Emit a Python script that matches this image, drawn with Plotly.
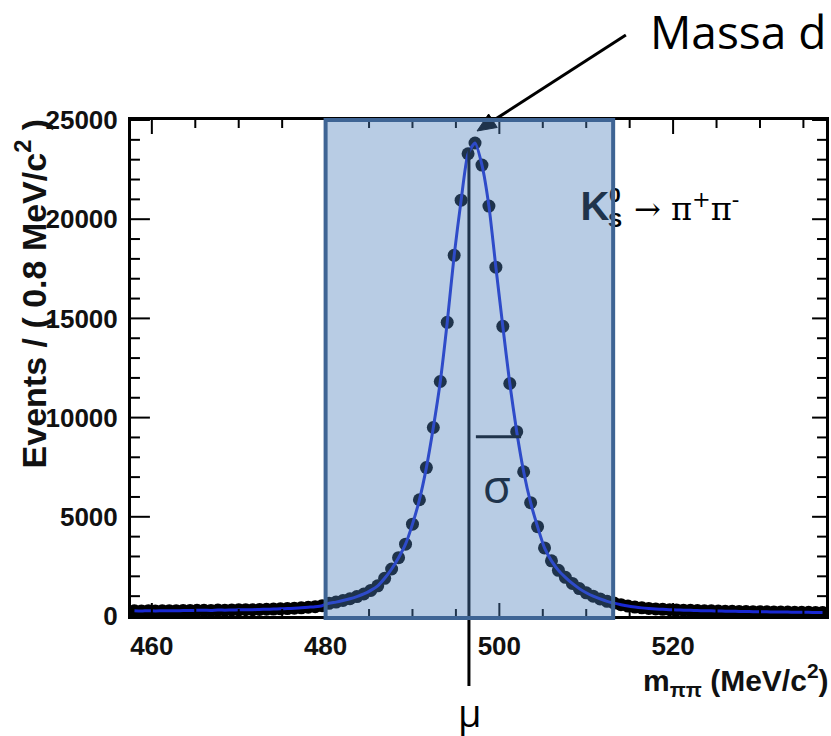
import numpy as np
import plotly.graph_objects as go

# ---- data: K0s -> pi+ pi- invariant mass, 0.8 MeV/c^2 bins ----
x_lo, x_hi, bin_w = 457.6, 537.6, 0.8
bin_centers = np.round(np.arange(x_lo + bin_w / 2, x_hi, bin_w), 2)

events_left_bg = [260, 250, 270, 255, 265, 270, 260, 280, 275, 285, 290, 280, 300, 295,
                  305, 310, 320, 315, 330, 340, 350, 360, 375, 390, 410, 440, 470, 520]
events_peak = [640, 700, 780, 870, 980, 1110, 1290, 1520, 1900, 2370, 2940, 3620, 4630,
               5860, 7480, 9500, 11820, 14800, 18180, 20960, 23300, 23840, 22730, 20660,
               17580, 14600, 11720, 9290, 7270, 5710, 4500, 3430, 2780, 2300, 1950, 1640,
               1380, 1170, 1000, 860, 740, 650]
events_right_bg = [570, 500, 450, 410, 380, 355, 335, 320, 305, 295, 285, 275, 265, 260,
                   250, 245, 240, 232, 226, 220, 215, 210, 205, 200, 196, 192, 188, 184,
                   180, 176]
events = np.array(events_left_bg + events_peak + events_right_bg, dtype=float)

mu = 496.5            # fitted mean
sigma_mark = (497.3, 502.5, 9040)   # x0, x1, y of the width marker

y_lo, y_hi = 0, 25000
x_major, x_minor = 20, 5
y_major, y_minor = 5000, 1000
window = (480.0, 513.1)   # selection window

# ---- page geometry ----
W, H = 831, 736
ML, MR, MT, MB = 131, 2, 120, 120
PW, PH = W - ML - MR, H - MT - MB


def px(xp, yp):
    """pixel -> paper coordinates"""
    return (xp - ML) / PW, (H - MB - yp) / PH


def data_to_px(xd, yd):
    return (ML + (xd - x_lo) / (x_hi - x_lo) * PW,
            H - MB - (yd - y_lo) / (y_hi - y_lo) * PH)


fig = go.Figure()

# data points and fitted curve
fig.add_trace(go.Scatter(
    x=bin_centers, y=events, mode="markers",
    marker=dict(color="black", size=13, line=dict(width=0)),
    hoverinfo="skip", showlegend=False))
fig.add_trace(go.Scatter(
    x=bin_centers, y=events, mode="lines",
    line=dict(color="rgb(25,40,210)", width=3, shape="spline", smoothing=0.6),
    hoverinfo="skip", showlegend=False))

# decay label
serif = "DejaVu Serif, Liberation Serif, serif"
sans = "Liberation Sans, Arial, sans-serif"
fig.add_trace(go.Scatter(x=[511.0], y=[20450], mode="text", text=["<b>K</b>"],
                         textfont=dict(family=sans, size=40, color="black"),
                         showlegend=False, hoverinfo="skip"))
fig.add_trace(go.Scatter(x=[513.3], y=[21150], mode="text", text=["<b>0</b>"],
                         textfont=dict(family=sans, size=21, color="black"),
                         showlegend=False, hoverinfo="skip"))
fig.add_trace(go.Scatter(x=[513.3], y=[19850], mode="text", text=["<b>S</b>"],
                         textfont=dict(family=sans, size=21, color="black"),
                         showlegend=False, hoverinfo="skip"))
fig.add_trace(go.Scatter(x=[515.5], y=[20350], mode="text",
                         text=["\u2192 \u03c0<sup>+</sup>\u03c0<sup>-</sup>"],
                         textposition="middle right",
                         textfont=dict(family=serif, size=32, color="black"),
                         showlegend=False, hoverinfo="skip"))
# width label
hand = "Open Sans, sans-serif"
fig.add_trace(go.Scatter(x=[499.7], y=[6300], mode="text", text=["\u03c3"],
                         textfont=dict(family=hand, size=46, color="black"),
                         showlegend=False, hoverinfo="skip"))

# ---- shapes (drawn in order; the window overlay goes last) ----
shapes = []

# inward tick marks on all four sides (ROOT style)
tick_line = dict(color="black", width=2)
for v in np.arange(y_lo, y_hi + 1, y_minor):
    major = v % y_major == 0
    left_len = (19 if major else 9) / PW
    right_len = (14 if major else 9) / PW
    shapes.append(dict(type="line", xref="paper", yref="y", x0=0, x1=left_len,
                       y0=v, y1=v, line=tick_line, layer="above"))
    shapes.append(dict(type="line", xref="paper", yref="y", x0=1 - right_len, x1=1,
                       y0=v, y1=v, line=tick_line, layer="above"))
for v in np.arange(np.ceil(x_lo / x_minor) * x_minor, x_hi, x_minor):
    major = v % x_major == 0
    bot_len = (13 if major else 7) / PH
    top_len = (14 if major else 8) / PH
    shapes.append(dict(type="line", xref="x", yref="paper", x0=v, x1=v,
                       y0=0, y1=bot_len, line=tick_line, layer="above"))
    shapes.append(dict(type="line", xref="x", yref="paper", x0=v, x1=v,
                       y0=1 - top_len, y1=1, line=tick_line, layer="above"))

mx = (mu - x_lo) / (x_hi - x_lo)
shapes.append(dict(type="line", xref="paper", yref="paper",
                   x0=mx, x1=mx, y0=px(0, 686)[1], y1=px(0, 148)[1],
                   line=dict(color="black", width=3), layer="above"))
shapes.append(dict(type="line", xref="x", yref="y",
                   x0=sigma_mark[0], x1=sigma_mark[1], y0=sigma_mark[2], y1=sigma_mark[2],
                   line=dict(color="black", width=3), layer="above"))

# arrow to the peak
peak_i = int(np.argmax(events))
tip_x, tip_y = data_to_px(bin_centers[peak_i], events[peak_i])
tip_x, tip_y = tip_x + 2, tip_y - 12
tail_x, tail_y = 628, 35
d = np.array([tip_x - tail_x, tip_y - tail_y])
d = d / np.hypot(*d)
n = np.array([-d[1], d[0]])
head_len, head_half = 19, 8
base = np.array([tip_x, tip_y]) - head_len * d
b1 = base + head_half * n
b2 = base - head_half * n
p_tail, p_base = px(tail_x, tail_y), px(*(base + 3 * d))
shapes.append(dict(type="line", xref="paper", yref="paper",
                   x0=p_tail[0], y0=p_tail[1], x1=p_base[0], y1=p_base[1],
                   line=dict(color="black", width=3), layer="above"))
pt, pb1, pb2 = px(tip_x, tip_y), px(*b1), px(*b2)
shapes.append(dict(type="path", xref="paper", yref="paper",
                   path=f"M{pt[0]},{pt[1]} L{pb1[0]},{pb1[1]} L{pb2[0]},{pb2[1]} Z",
                   fillcolor="black", line=dict(color="black", width=1), layer="above"))

# selection window overlay
wx0 = (window[0] - x_lo) / (x_hi - x_lo)
wx1 = (window[1] - x_lo) / (x_hi - x_lo)
wy0 = px(0, 618)[1]
shapes.append(dict(type="rect", xref="paper", yref="paper",
                   x0=wx0, x1=wx1, y0=wy0, y1=1.0,
                   fillcolor="rgb(77,128,188)", opacity=0.4,
                   line=dict(width=0), layer="above"))
shapes.append(dict(type="rect", xref="paper", yref="paper",
                   x0=wx0, x1=wx1, y0=wy0, y1=1.0,
                   fillcolor="rgba(0,0,0,0)",
                   line=dict(color="rgb(62,100,148)", width=4), layer="above"))

annotations = [
    dict(text="<b>Events / ( 0.8 MeV/c<sup>2</sup> )</b>", textangle=-90,
         xref="paper", yref="paper", x=px(30, 0)[0], y=px(0, 116)[1],
         xanchor="center", yanchor="top", showarrow=False,
         font=dict(family=sans, size=34, color="#111")),
    dict(text="<b>m<sub>\u03c0\u03c0</sub> (MeV/c<sup>2</sup>)</b>",
         xref="paper", yref="paper", x=px(834, 0)[0], y=px(0, 680)[1],
         xanchor="right", yanchor="middle", showarrow=False,
         font=dict(family=sans, size=30, color="#111")),
    dict(text="\u03bc", xref="paper", yref="paper", x=px(471, 0)[0], y=px(0, 740)[1],
         xanchor="center", yanchor="bottom", showarrow=False,
         font=dict(family=hand, size=38, color="black")),
    dict(text="Massa d", xref="paper", yref="paper", x=px(650, 0)[0], y=px(0, 31)[1],
         xanchor="left", yanchor="middle", showarrow=False,
         font=dict(family=hand, size=46, color="black")),
]

tickfont = dict(family=sans, size=26, color="#111", weight="bold")
fig.update_layout(
    width=W, height=H,
    margin=dict(l=ML, r=MR, t=MT, b=MB, pad=0),
    paper_bgcolor="white", plot_bgcolor="white",
    shapes=shapes, annotations=annotations, showlegend=False,
    xaxis=dict(range=[x_lo, x_hi], tickmode="linear", tick0=0, dtick=x_major,
               ticks="", showline=True, linecolor="black", linewidth=3, mirror=True,
               showgrid=False, zeroline=False, tickfont=tickfont, tickformat="d",
               ticklabelstandoff=5),
    yaxis=dict(range=[y_lo, y_hi], tickmode="linear", tick0=0, dtick=y_major,
               ticks="", showline=True, linecolor="black", linewidth=3, mirror=True,
               showgrid=False, zeroline=False, tickfont=tickfont, tickformat="d",
               ticklabelstandoff=5),
)

fig.write_html("out.html")
